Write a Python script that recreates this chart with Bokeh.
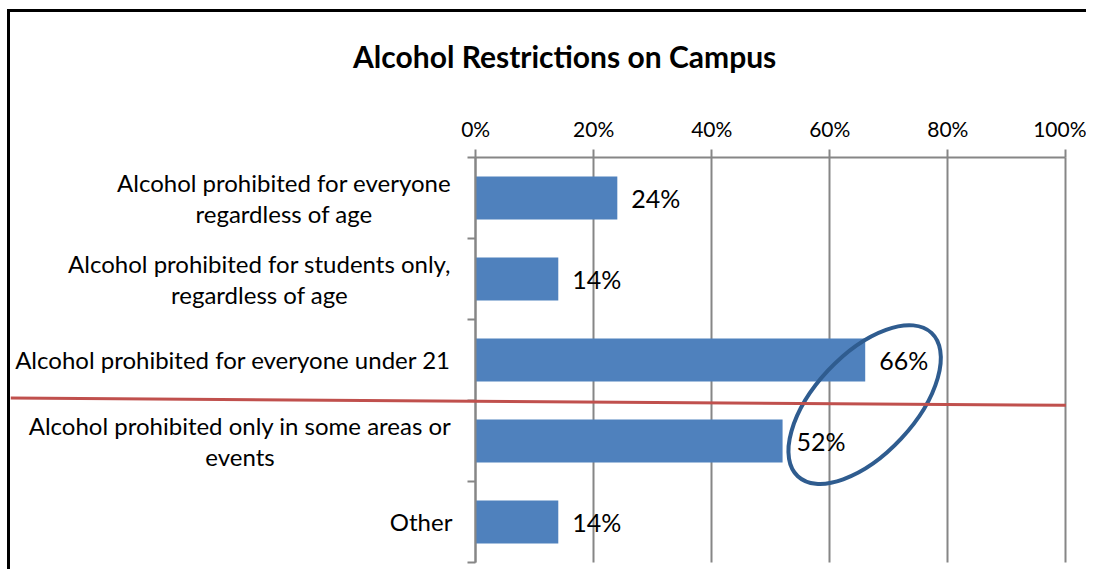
from bokeh.plotting import figure
from bokeh.models import Range1d, FixedTicker, Arrow, ColumnDataSource, Label
from bokeh.embed import file_html
from bokeh.resources import INLINE
from bokeh.core.properties import value

# ---- data ----
categories = [
    "Alcohol prohibited for everyone\nregardless of age",
    "Alcohol prohibited for students only,\nregardless of age",
    "Alcohol prohibited for everyone under 21",
    "Alcohol prohibited only in some areas or\nevents",
    "Other",
]
percent_values = [24, 14, 66, 52, 14]
x_ticks = [0, 20, 40, 60, 80, 100]
x_tick_labels = ["0%", "20%", "40%", "60%", "80%", "100%"]
title_text = "Alcohol Restrictions on Campus"

# ---- layout helpers (positions, not data) ----
FONT = "Lato"
X_START, X_END = -78.81, 104.0         # frame spans label area and right margin
Y_START, Y_END = -0.1235, 6.79         # frame spans title area and bottom margin
label_centers = [-32.46, -36.61, -41.1, -39.92, -9.24]   # centre of each category label block
TITLE_X, TITLE_Y = 15.08, 6.25

n = len(categories)
y_centers = [n - i - 0.5 for i in range(n)]
labels = [f"{v}%" for v in percent_values]

src = ColumnDataSource(dict(y=y_centers, v=percent_values, lab=labels))
cat_src = ColumnDataSource(dict(x=label_centers, y=y_centers, cat=categories))

# frame width = (X_END - X_START) * 5.9 px
p = figure(width=1079, height=560, output_backend="svg", toolbar_location=None,
           x_range=Range1d(X_START, X_END), y_range=Range1d(Y_START, Y_END),
           x_axis_location="above",
           min_border_left=0, min_border_right=0, min_border_top=0, min_border_bottom=0)
p.styles = {"border-top": "3px solid black", "border-left": "3px solid black",
            "margin-top": "9px", "margin-left": "7px"}
p.outline_line_color = None
p.background_fill_color = "white"

# bars
p.hbar(y="y", right="v", left=0, height=0.53, source=src, fill_color="#4F81BD", line_color=None)
p.text(x="v", y="y", text="lab", source=src, x_offset=14, text_align="left", text_baseline="middle",
       text_font=value(FONT), text_font_size="25px", text_color="#000000")

# category labels (centred lines, block ending just left of the axis)
p.text(x="x", y="y", text="cat", source=cat_src, text_align="center", text_baseline="middle",
       text_font=value(FONT), text_font_size="24px", text_color="#000000", text_line_height=1.08)

# x axis (top of the bars)
xa = p.xaxis[0]
xa.fixed_location = n
xa.ticker = FixedTicker(ticks=x_ticks)
xa.bounds = (0, 100)
xa.major_label_overrides = {t: l for t, l in zip(x_ticks, x_tick_labels)}
xa.major_label_text_font = FONT
xa.major_label_text_font_size = "21px"
xa.major_label_text_color = "#000000"
xa.axis_line_color = "#868686"
xa.axis_line_width = 2
xa.major_tick_line_color = "#868686"
xa.major_tick_line_width = 2
xa.major_tick_out = 8
xa.major_tick_in = 0
xa.minor_tick_line_color = None
xa.major_label_standoff = 8

# y axis, placed at 0%: tick marks between categories
ya = p.yaxis[0]
ya.fixed_location = 0
ya.bounds = (0, n)
ya.ticker = FixedTicker(ticks=[], minor_ticks=list(range(n + 1)))
ya.major_tick_out = 0
ya.major_tick_in = 0
ya.minor_tick_out = 8
ya.minor_tick_in = 0
ya.minor_tick_line_color = "#868686"
ya.minor_tick_line_width = 2
ya.axis_line_color = "#868686"
ya.axis_line_width = 2

# grid
p.xgrid.ticker = FixedTicker(ticks=x_ticks)
p.xgrid.bounds = (0, 100)
p.xgrid.cross_bounds = (0, n)
p.xgrid.grid_line_color = "#868686"
p.xgrid.grid_line_width = 2
p.ygrid.grid_line_color = None

# title
p.add_layout(Label(x=TITLE_X, y=TITLE_Y, text=title_text, text_align="center", text_baseline="middle",
                   text_font=FONT, text_font_size="30px", text_font_style="bold", text_color="#000000"))

# annotations: ellipse around 66% / 52%, red dividing line
p.ellipse(x=65.9, y=1.95, width=196, height=100, width_units="screen", height_units="screen",
          angle=0.82, fill_color=None, line_color="#2F5C8F", line_width=4)
p.add_layout(Arrow(end=None, x_start=X_START, y_start=2.03, x_end=100, y_end=1.94,
                   line_color="#C0504D", line_width=3))

open("out.html", "w").write(file_html(p, INLINE))
